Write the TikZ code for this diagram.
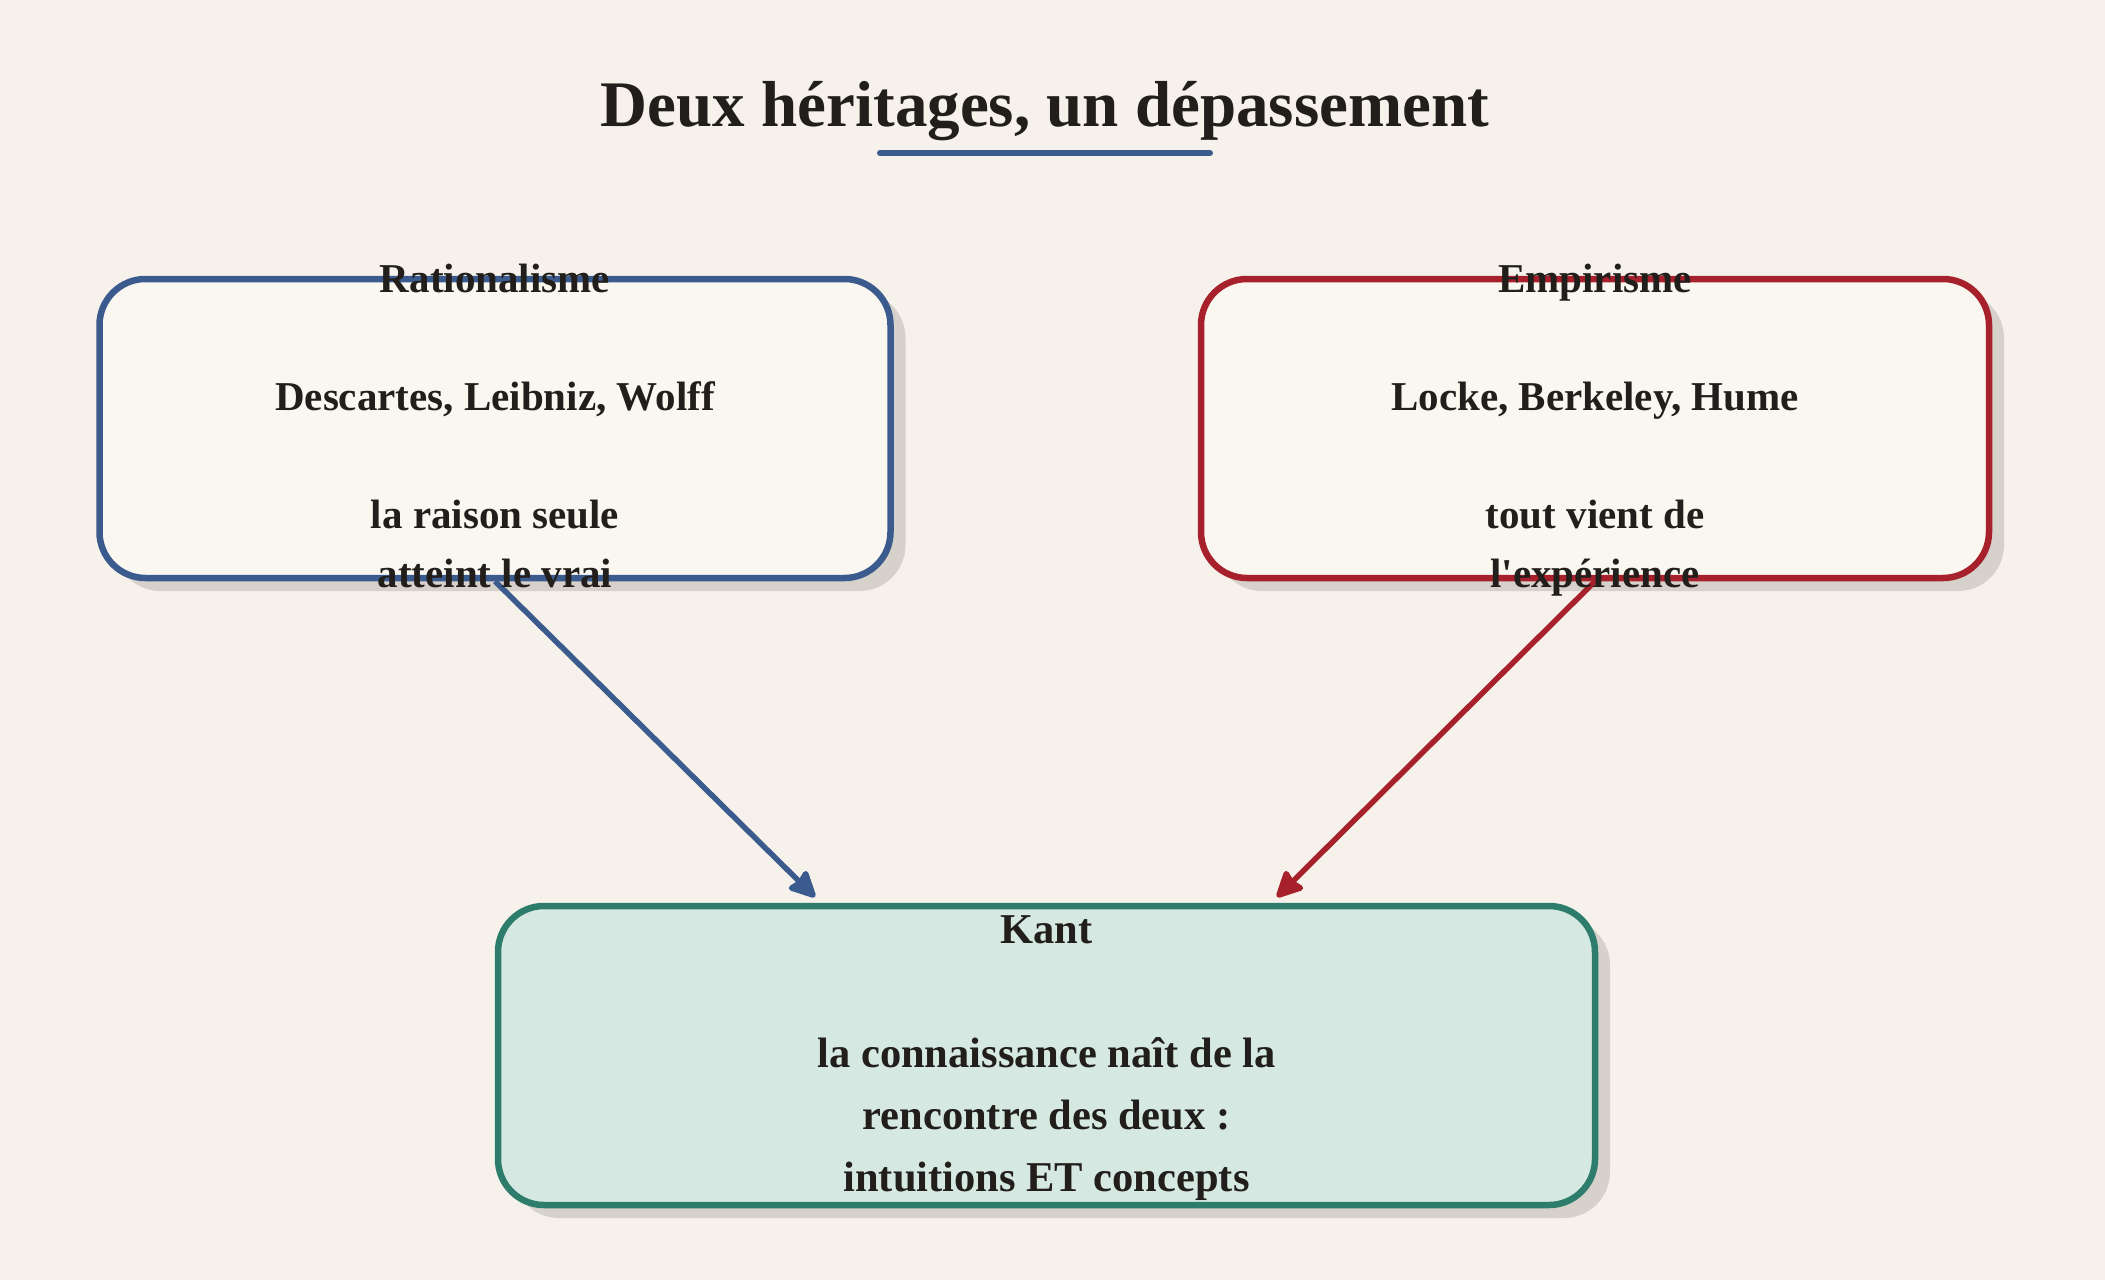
\documentclass[tikz,border=0pt]{standalone}
\usepackage{fontspec}
\setmainfont{Liberation Serif}
\usetikzlibrary{arrows.meta,shadows}
\definecolor{bgc}{HTML}{F6F2EB}
\definecolor{boxfill}{HTML}{FAF7F1}
\definecolor{bluec}{HTML}{3B5B8E}
\definecolor{redc}{HTML}{A6212C}
\definecolor{greenc}{HTML}{2E7D6C}
\definecolor{greenfill}{HTML}{D5E9E2}
\definecolor{shadowc}{HTML}{D6D1CA}
\definecolor{inkc}{HTML}{221E1B}
\begin{document}
\begin{tikzpicture}[x=1pt,y=-1pt,
  card/.style={rectangle, rounded corners=46pt, line width=6.5pt, inner sep=0pt,
    minimum height=299pt,
    general shadow={fill=shadowc, shadow xshift=15pt, shadow yshift=-13pt}},
  cardtext/.style={align=center, text=inkc, font=\bfseries\fontsize{41}{59}\selectfont},
  kanttext/.style={align=center, text=inkc, font=\bfseries\fontsize{42.5}{62}\selectfont},
  link/.style={line width=5.5pt, -{Stealth[length=30pt,width=29pt,inset=3pt,round]}}
]
\fill[bgc] (0,0) rectangle (2105,1280);
\useasboundingbox (0,0) rectangle (2105,1280);

\node[text=inkc, font=\bfseries\fontsize{65}{78}\selectfont, anchor=base] (title) at (1045,126) {Deux héritages, un dépassement};
\draw[bluec, line width=6pt, line cap=round] (880,153) coordinate (ulA) -- (1210,153) coordinate (ulB);

\node[card, draw=bluec, fill=boxfill, minimum width=791pt] (rat) at (495,428.5) {};
\node[card, draw=redc, fill=boxfill, minimum width=788pt] (emp) at (1595,428.5) {};
\node[card, draw=greenc, fill=greenfill, minimum width=1097pt] (kant) at (1046.5,1055.5) {};

\coordinate (kinL) at (815,897);
\coordinate (kinR) at (1277,897);
\draw[link, bluec] (rat.south) -- (kinL);
\draw[link, redc] (emp.south) -- (kinR);

\node[cardtext] (ratt) at (rat.center) {\strut Rationalisme\\[59pt]Descartes, Leibniz, Wolff\\[59pt]la raison seule\\atteint le vrai\strut};
\node[cardtext] (empt) at (emp.center) {\strut Empirisme\\[59pt]Locke, Berkeley, Hume\\[59pt]tout vient de\\l\textquotesingle expérience\strut};
\node[kanttext] (kantt) at (kant.center) {\strut Kant\\[62pt]la connaissance naît de la\\rencontre des deux :\\intuitions ET concepts\strut};
\end{tikzpicture}
\end{document}
